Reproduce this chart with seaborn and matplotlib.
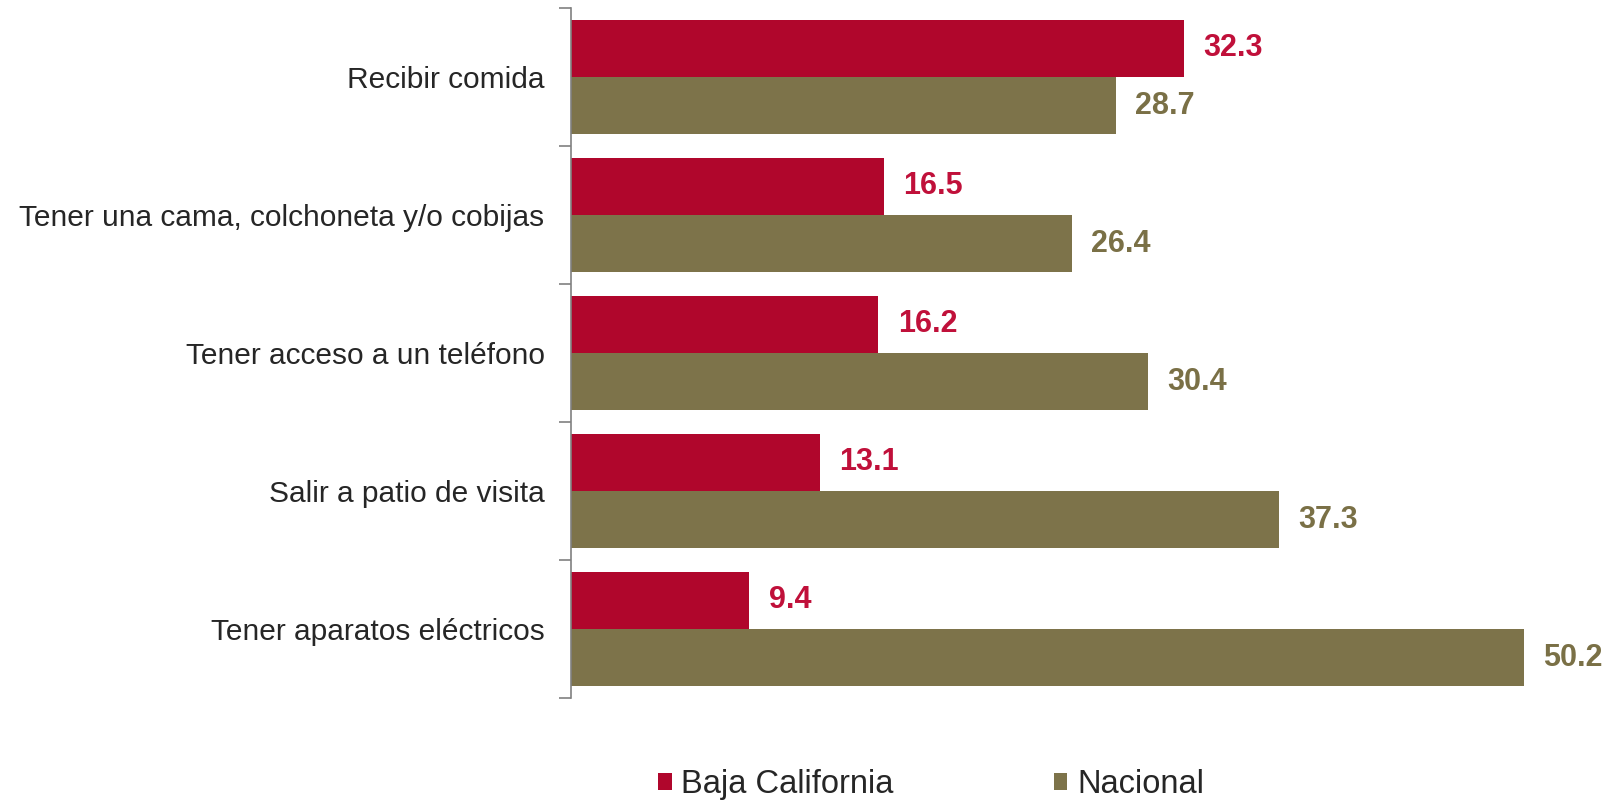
import pandas as pd
import matplotlib.pyplot as plt
import seaborn as sns
from matplotlib.ticker import FixedLocator

categorias = [
    "Recibir comida",
    "Tener una cama, colchoneta y/o cobijas",
    "Tener acceso a un teléfono",
    "Salir a patio de visita",
    "Tener aparatos eléctricos",
]
baja_california = [32.3, 16.5, 16.2, 13.1, 9.4]
nacional = [28.7, 26.4, 30.4, 37.3, 50.2]
series = ["Baja California", "Nacional"]

colores = {"Baja California": "#B0062C", "Nacional": "#7D734A"}
colores_texto = {"Baja California": "#C0103A", "Nacional": "#7A7046"}

df = pd.DataFrame({
    "categoria": categorias * 2,
    "serie": [series[0]] * len(categorias) + [series[1]] * len(categorias),
    "valor": baja_california + nacional,
})

sns.set_style("white")
plt.rcParams['font.family'] = ['Liberation Sans', 'DejaVu Sans']

fig = plt.figure(figsize=(16.09, 8.02), dpi=100)
ax = fig.add_axes([571 / 1609, 104 / 802, 1038 / 1609, 690 / 802])

sns.barplot(data=df, y="categoria", x="valor", hue="serie", order=categorias,
            hue_order=series, palette=colores, orient="h", width=0.83,
            saturation=1, linewidth=0, ax=ax, legend=True)

# etiquetas de valor
for cont, serie in zip(ax.containers, series):
    ax.bar_label(cont, fmt="%.1f", padding=14, fontsize=22, fontweight="bold",
                 color=colores_texto[serie])

ax.set_xlim(0, 54.7)
ax.set_ylim(4.5, -0.5)
ax.set_xlabel("")
ax.set_ylabel("")
ax.set_xticks([])

for s in ["top", "right", "bottom"]:
    ax.spines[s].set_visible(False)
ax.spines["left"].set_color("#808080")
ax.spines["left"].set_linewidth(1.2)

ax.yaxis.set_minor_locator(FixedLocator([-0.5, 0.5, 1.5, 2.5, 3.5, 4.5]))
ax.tick_params(axis="y", which="major", length=0, pad=19, labelsize=21.5,
               labelcolor="#262626")
ax.tick_params(axis="y", which="minor", length=9, width=1.2, color="#808080",
               direction="out", left=True)

leg = ax.legend(loc="lower center", bbox_to_anchor=(931 / 1609, -0.034),
                bbox_transform=fig.transFigure, ncol=2, frameon=False,
                fontsize=23.5, handlelength=0.42, handleheight=0.42,
                handletextpad=0.3, columnspacing=4.9)
for t in leg.get_texts():
    t.set_color("#262626")

plt.savefig("out.png", dpi=100)
plt.close()
